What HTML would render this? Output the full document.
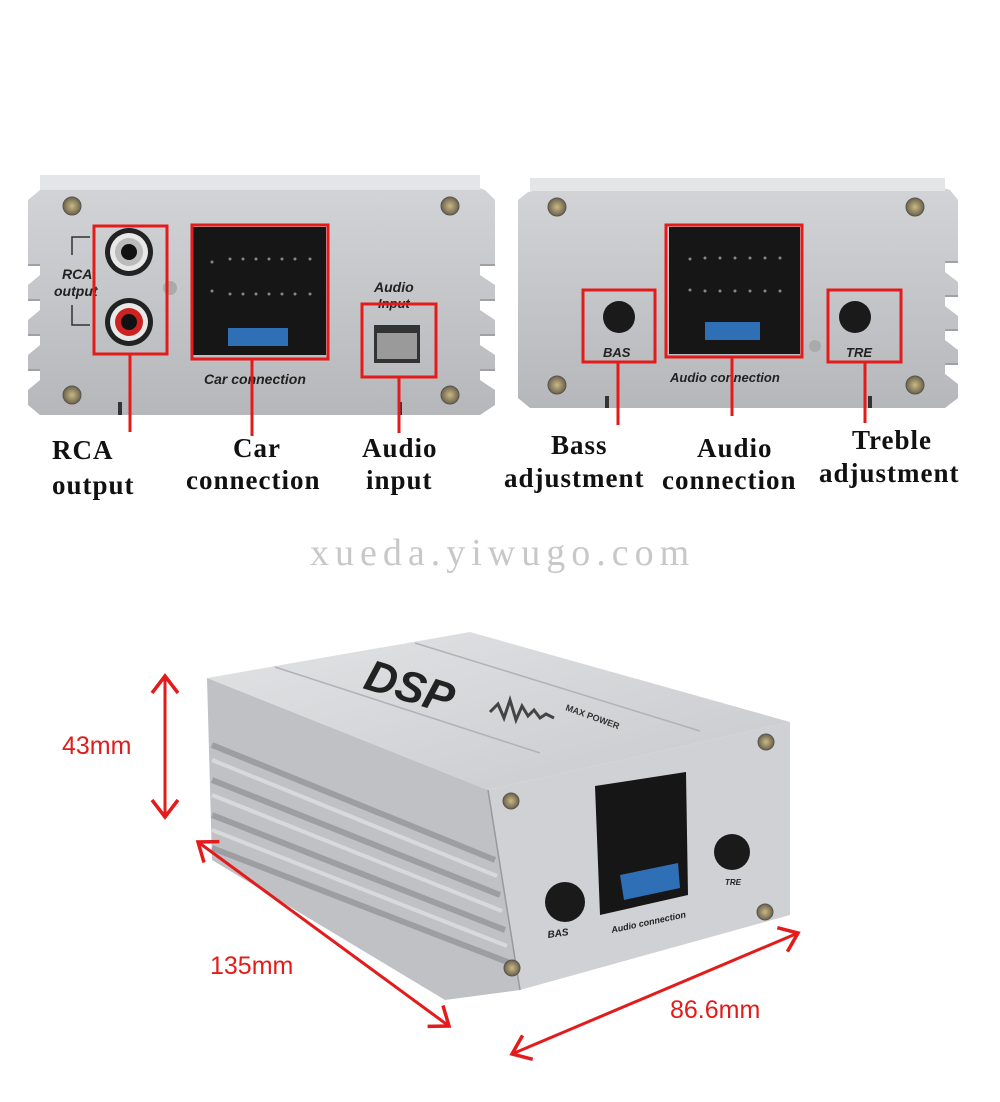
<!DOCTYPE html>
<html><head><meta charset="utf-8"><style>
html,body{margin:0;padding:0;background:#fff;}
svg{display:block}
.lbl{font-family:"Liberation Serif",serif;font-weight:bold;font-size:27px;fill:#111;letter-spacing:1px}
.it{font-family:"Liberation Sans",sans-serif;font-weight:bold;font-style:italic;fill:#222}
.mm{font-family:"Liberation Sans",sans-serif;font-size:25px;fill:#e31b1b}
</style></head><body>
<svg width="1000" height="1102" viewBox="0 0 1000 1102" xmlns="http://www.w3.org/2000/svg">
<defs>
<linearGradient id="al" x1="0" y1="0" x2="0" y2="1">
<stop offset="0" stop-color="#d4d5d8"/><stop offset="0.5" stop-color="#c4c6c9"/><stop offset="1" stop-color="#b5b7ba"/></linearGradient>
<linearGradient id="top" x1="0" y1="0" x2="1" y2="1">
<stop offset="0" stop-color="#e2e3e5"/><stop offset="1" stop-color="#c8c9cc"/></linearGradient>
<radialGradient id="scr"><stop offset="0" stop-color="#c9b98a"/><stop offset="1" stop-color="#6d6248"/></radialGradient>
<marker id="ah" viewBox="0 0 20 20" refX="18" refY="10" markerWidth="20" markerHeight="20" markerUnits="userSpaceOnUse" orient="auto-start-reverse" overflow="visible">
<path d="M1,-3 L18,10 L1,23" fill="none" stroke="#e31b1b" stroke-width="3.5"/></marker>
</defs>
<rect width="1000" height="1102" fill="#fff"/>

<!-- LEFT DEVICE -->
<path d="M40,190 L120,175 L440,175 L485,190 L495,200 L495,265 L480,265 L480,275 L495,285 L495,300 L480,300 L480,310 L495,320 L495,335 L480,335 L480,345 L495,355 L495,370 L480,370 L480,380 L495,390 L495,405 L480,415 L40,415 L28,405 L28,390 L40,380 L40,370 L28,370 L28,355 L40,345 L40,335 L28,335 L28,320 L40,310 L40,300 L28,300 L28,285 L40,275 L40,265 L28,265 L28,200 Z" fill="url(#al)"/>
<rect x="40" y="175" width="440" height="15" fill="#e4e5e7"/>
<g stroke="#9fa1a5" stroke-width="2"><line x1="28" y1="265" x2="40" y2="265"/><line x1="28" y1="300" x2="40" y2="300"/><line x1="28" y1="335" x2="40" y2="335"/><line x1="28" y1="370" x2="40" y2="370"/><line x1="480" y1="265" x2="495" y2="265"/><line x1="480" y1="300" x2="495" y2="300"/><line x1="480" y1="335" x2="495" y2="335"/><line x1="480" y1="370" x2="495" y2="370"/></g>
<g fill="url(#scr)" stroke="#555" stroke-width="1"><circle cx="72" cy="206" r="9"/><circle cx="450" cy="206" r="9"/><circle cx="72" cy="395" r="9"/><circle cx="450" cy="395" r="9"/></g>
<rect x="118" y="402" width="4" height="13" fill="#333"/><rect x="398" y="402" width="4" height="13" fill="#333"/>
<path d="M90,237 L72,237 L72,255 M90,325 L72,325 L72,305" stroke="#333" stroke-width="1.5" fill="none"/>
<text x="62" y="279" class="it" font-size="14">RCA</text><text x="54" y="296" class="it" font-size="14">output</text>
<circle cx="129" cy="252" r="24" fill="#222"/><circle cx="129" cy="252" r="19" fill="#e8e8e8"/><circle cx="129" cy="252" r="14" fill="#bbb"/><circle cx="129" cy="252" r="8" fill="#111"/>
<circle cx="129" cy="322" r="24" fill="#222"/><circle cx="129" cy="322" r="19" fill="#e8e8e8"/><circle cx="129" cy="322" r="14" fill="#c22"/><circle cx="129" cy="322" r="8" fill="#111"/>
<circle cx="170" cy="288" r="7" fill="#aaa"/>
<rect x="94" y="226" width="73" height="128" fill="none" stroke="#e31b1b" stroke-width="3"/>
<rect x="193" y="227" width="133" height="128" fill="#161616"/>
<g fill="#888"><circle cx="212" cy="262" r="1.5"/><circle cx="230" cy="259" r="1.5"/><circle cx="243" cy="259" r="1.5"/><circle cx="256" cy="259" r="1.5"/><circle cx="269" cy="259" r="1.5"/><circle cx="282" cy="259" r="1.5"/><circle cx="295" cy="259" r="1.5"/><circle cx="310" cy="259" r="1.5"/><circle cx="212" cy="291" r="1.5"/><circle cx="230" cy="294" r="1.5"/><circle cx="243" cy="294" r="1.5"/><circle cx="256" cy="294" r="1.5"/><circle cx="269" cy="294" r="1.5"/><circle cx="282" cy="294" r="1.5"/><circle cx="295" cy="294" r="1.5"/><circle cx="310" cy="294" r="1.5"/></g>
<rect x="228" y="328" width="60" height="18" fill="#2f6fb5"/>
<rect x="192" y="225" width="136" height="134" fill="none" stroke="#e31b1b" stroke-width="3"/>
<text x="204" y="384" class="it" font-size="14">Car connection</text>
<text x="374" y="292" class="it" font-size="14">Audio</text><text x="378" y="308" class="it" font-size="13">Input</text>
<rect x="374" y="325" width="46" height="38" fill="#333"/><rect x="377" y="333" width="40" height="26" fill="#9a9a9a"/>
<rect x="362" y="304" width="74" height="73" fill="none" stroke="#e31b1b" stroke-width="3"/>
<g stroke="#e31b1b" stroke-width="3"><line x1="130" y1="354" x2="130" y2="432"/><line x1="252" y1="359" x2="252" y2="436"/><line x1="399" y1="377" x2="399" y2="433"/></g>
<text x="52" y="459" class="lbl">RCA</text><text x="52" y="494" class="lbl">output</text>
<text x="233" y="457" class="lbl">Car</text><text x="186" y="489" class="lbl">connection</text>
<text x="362" y="457" class="lbl">Audio</text><text x="366" y="489" class="lbl">input</text>

<!-- RIGHT DEVICE -->
<path d="M528,192 L600,178 L910,178 L950,190 L958,200 L958,262 L945,262 L945,272 L958,282 L958,296 L945,296 L945,306 L958,316 L958,330 L945,330 L945,340 L958,350 L958,364 L945,364 L945,374 L958,384 L958,398 L945,408 L530,408 L518,398 L518,200 Z" fill="url(#al)"/>
<rect x="530" y="178" width="415" height="13" fill="#e4e5e7"/>
<g stroke="#9fa1a5" stroke-width="2"><line x1="945" y1="262" x2="958" y2="262"/><line x1="945" y1="296" x2="958" y2="296"/><line x1="945" y1="330" x2="958" y2="330"/><line x1="945" y1="364" x2="958" y2="364"/></g>
<g fill="url(#scr)" stroke="#555" stroke-width="1"><circle cx="557" cy="207" r="9"/><circle cx="915" cy="207" r="9"/><circle cx="557" cy="385" r="9"/><circle cx="915" cy="385" r="9"/></g>
<rect x="605" y="396" width="4" height="12" fill="#333"/><rect x="868" y="396" width="4" height="12" fill="#333"/>
<circle cx="619" cy="317" r="16" fill="#1a1a1a"/>
<rect x="583" y="290" width="72" height="72" fill="none" stroke="#e31b1b" stroke-width="3"/>
<text x="603" y="357" class="it" font-size="13">BAS</text>
<rect x="669" y="227" width="131" height="127" fill="#161616"/>
<g fill="#888"><circle cx="690" cy="259" r="1.5"/><circle cx="705" cy="258" r="1.5"/><circle cx="720" cy="258" r="1.5"/><circle cx="735" cy="258" r="1.5"/><circle cx="750" cy="258" r="1.5"/><circle cx="765" cy="258" r="1.5"/><circle cx="780" cy="258" r="1.5"/><circle cx="690" cy="290" r="1.5"/><circle cx="705" cy="291" r="1.5"/><circle cx="720" cy="291" r="1.5"/><circle cx="735" cy="291" r="1.5"/><circle cx="750" cy="291" r="1.5"/><circle cx="765" cy="291" r="1.5"/><circle cx="780" cy="291" r="1.5"/></g>
<rect x="705" y="322" width="55" height="18" fill="#2f6fb5"/>
<circle cx="815" cy="346" r="6" fill="#aaa"/>
<rect x="666" y="225" width="136" height="132" fill="none" stroke="#e31b1b" stroke-width="3"/>
<text x="670" y="382" class="it" font-size="13">Audio connection</text>
<circle cx="855" cy="317" r="16" fill="#1a1a1a"/>
<rect x="828" y="290" width="73" height="72" fill="none" stroke="#e31b1b" stroke-width="3"/>
<text x="846" y="357" class="it" font-size="13">TRE</text>
<g stroke="#e31b1b" stroke-width="3"><line x1="618" y1="361" x2="618" y2="425"/><line x1="732" y1="357" x2="732" y2="416"/><line x1="865" y1="361" x2="865" y2="423"/></g>
<text x="551" y="454" class="lbl">Bass</text><text x="504" y="487" class="lbl">adjustment</text>
<text x="697" y="457" class="lbl">Audio</text><text x="662" y="489" class="lbl">connection</text>
<text x="852" y="449" class="lbl">Treble</text><text x="819" y="482" class="lbl">adjustment</text>

<text x="310" y="565" font-family="Liberation Serif,serif" font-size="38" fill="#c8c8c8" letter-spacing="6">xueda.yiwugo.com</text>

<!-- 3D BOX -->
<path d="M207,678 L470,632 L790,722 L488,790 Z" fill="url(#top)"/>
<path d="M275,667 L540,753" stroke="#b0b2b5" stroke-width="1.5"/>
<path d="M415,643 L700,731" stroke="#b0b2b5" stroke-width="1.5"/>
<path d="M207,678 L488,790 L520,990 L445,1000 L212,860 Z" fill="#bfc1c4"/>
<g stroke="#9c9ea2" stroke-width="6"><line x1="212" y1="745" x2="495" y2="860"/><line x1="212" y1="780" x2="500" y2="895"/><line x1="212" y1="815" x2="505" y2="930"/><line x1="212" y1="848" x2="510" y2="963"/></g>
<g stroke="#d8d9db" stroke-width="4"><line x1="212" y1="760" x2="497" y2="876"/><line x1="212" y1="795" x2="502" y2="911"/><line x1="212" y1="830" x2="507" y2="946"/></g>
<path d="M488,790 L790,722 L790,915 L520,990 Z" fill="#d0d1d4"/>
<path d="M488,790 L520,990" stroke="#999" stroke-width="1.5"/>
<g fill="url(#scr)" stroke="#555"><circle cx="511" cy="801" r="8"/><circle cx="766" cy="742" r="8"/><circle cx="512" cy="968" r="8"/><circle cx="765" cy="912" r="8"/></g>
<path d="M595,786 L686,772 L688,895 L600,915 Z" fill="#161616"/>
<path d="M620,875 L678,863 L680,888 L624,900 Z" fill="#2f6fb5"/>
<circle cx="565" cy="902" r="20" fill="#1a1a1a"/>
<circle cx="732" cy="852" r="18" fill="#1a1a1a"/>
<text x="548" y="938" class="it" font-size="10" transform="rotate(-8 548 938)">BAS</text>
<text x="612" y="933" class="it" font-size="9" transform="rotate(-12 612 933)">Audio connection</text>
<text x="725" y="885" class="it" font-size="8">TRE</text>
<text x="362" y="688" font-family="Liberation Sans,sans-serif" font-weight="bold" font-style="italic" font-size="44" fill="#222" transform="rotate(17 362 688)">DSP</text>
<path d="M490,712 l8,-8 l6,14 l6,-18 l6,20 l6,-14 l6,10 l6,-6 l6,8 l6,-4 l8,4" stroke="#444" stroke-width="3" fill="none"/>
<text x="565" y="710" font-family="Liberation Sans,sans-serif" font-weight="bold" font-size="9" fill="#333" transform="rotate(20 565 710)">MAX POWER</text>

<!-- arrows -->
<g stroke="#e31b1b" stroke-width="3" fill="none">
<line x1="165" y1="676" x2="165" y2="817" marker-start="url(#ah)" marker-end="url(#ah)"/>
<line x1="198" y1="842" x2="449" y2="1026" marker-start="url(#ah)" marker-end="url(#ah)"/>
<line x1="512" y1="1054" x2="798" y2="933" marker-start="url(#ah)" marker-end="url(#ah)"/>
</g>
<text x="62" y="754" class="mm">43mm</text>
<text x="210" y="974" class="mm">135mm</text>
<text x="670" y="1018" class="mm">86.6mm</text>
</svg>
</body></html>
